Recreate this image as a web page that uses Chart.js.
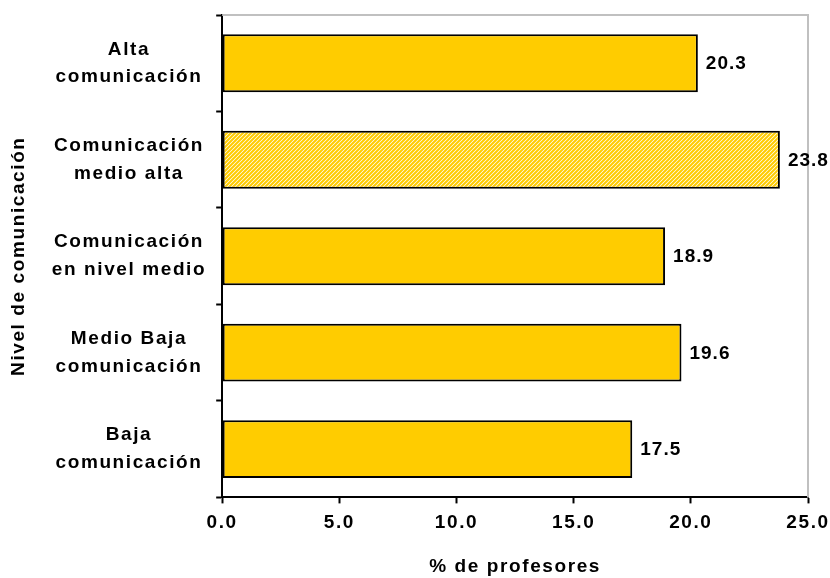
<!DOCTYPE html>
<html>
<head>
<meta charset="utf-8">
<script src="https://cdn.jsdelivr.net/npm/chart.js@4/dist/chart.umd.min.js"></script>
<style>
  html, body { margin: 0; padding: 0; background: #fff; }
  #wrap { width: 830px; height: 578px; }
</style>
</head>
<body>
<div id="wrap"><canvas id="nivelChart" width="830" height="578"></canvas></div>
<script>
const categories = [
  ['Alta', 'comunicación'],
  ['Comunicación', 'medio alta'],
  ['Comunicación', 'en nivel medio'],
  ['Medio Baja', 'comunicación'],
  ['Baja', 'comunicación']
];
const porcentajes = [20.3, 23.8, 18.9, 19.6, 17.5];
const xTicks = [0, 5, 10, 15, 20, 25];

// hatched fill for the highlighted bar
function makeHatch() {
  const c = document.createElement('canvas');
  c.width = 4; c.height = 4;
  const g = c.getContext('2d');
  g.fillStyle = '#fff';
  g.fillRect(0, 0, 4, 4);
  g.strokeStyle = '#FFCC00';
  g.lineWidth = 2.1;
  g.beginPath();
  g.moveTo(-1, 5); g.lineTo(5, -1);
  g.moveTo(-1, 1); g.lineTo(1, -1);
  g.moveTo(3, 5); g.lineTo(5, 3);
  g.stroke();
  return g.createPattern(c, 'repeat');
}
const hatch = makeHatch();
const fills = porcentajes.map((v, i) => i === 1 ? hatch : '#FFCC00');

const FONT = 'Liberation Sans, Arial, sans-serif';
const SPACING = '1.6px';

// wide letter spacing for all chart text
const spacing = {
  id: 'spacing',
  beforeUpdate(chart) { chart.ctx.letterSpacing = SPACING; },
  beforeDraw(chart) { chart.ctx.letterSpacing = SPACING; }
};

// grey frame on top/right of the plot area
const frame = {
  id: 'frame',
  beforeDatasetsDraw(chart) {
    const a = chart.chartArea, ctx = chart.ctx;
    ctx.save();
    ctx.strokeStyle = '#c0c0c0';
    ctx.lineWidth = 2;
    ctx.beginPath();
    ctx.moveTo(a.left, a.top);
    ctx.lineTo(a.right, a.top);
    ctx.lineTo(a.right, a.bottom);
    ctx.stroke();
    ctx.restore();
  }
};

// value labels at the end of each bar
const valueLabels = {
  id: 'valueLabels',
  afterDatasetsDraw(chart) {
    const ctx = chart.ctx;
    const meta = chart.getDatasetMeta(0);
    ctx.save();
    ctx.font = 'bold 19px ' + FONT;
    ctx.letterSpacing = '1px';
    ctx.fillStyle = '#000';
    ctx.textBaseline = 'middle';
    meta.data.forEach((bar, i) => {
      ctx.fillText(porcentajes[i].toFixed(1), bar.x + 8, bar.y + 1);
    });
    ctx.restore();
  }
};

new Chart(document.getElementById('nivelChart'), {
  type: 'bar',
  data: {
    labels: categories,
    datasets: [{
      data: porcentajes,
      backgroundColor: fills,
      borderColor: '#000',
      borderWidth: 2,
      borderSkipped: false,
      barPercentage: 0.6,
      categoryPercentage: 1
    }]
  },
  options: {
    indexAxis: 'y',
    responsive: false,
    animation: false,
    layout: { padding: { top: 15, right: 0, left: 2, bottom: 0 } },
    plugins: {
      legend: { display: false },
      tooltip: { enabled: false }
    },
    scales: {
      x: {
        min: 0,
        max: 25,
        afterBuildTicks(scale) { scale.ticks = xTicks.map(v => ({ value: v })); },
        afterFit(scale) { scale.paddingRight = 22; },
        grid: { drawOnChartArea: false, tickLength: 6, color: '#000', tickWidth: 2 },
        border: { color: '#000', width: 2 },
        ticks: {
          color: '#000',
          font: { family: FONT, size: 19, weight: 'bold' },
          padding: 8,
          callback: v => v.toFixed(1)
        },
        title: {
          display: true,
          text: '% de profesores',
          color: '#000',
          font: { family: FONT, size: 19, weight: 'bold' },
          padding: { top: 13, bottom: 0 }
        }
      },
      y: {
        afterFit(scale) { scale.paddingTop = 0; scale.paddingBottom = 0; },
        grid: { drawOnChartArea: false, offset: true, tickLength: 6, color: '#000', tickWidth: 2 },
        border: { color: '#000', width: 2 },
        ticks: {
          color: '#000',
          font: { family: FONT, size: 19, weight: 'bold', lineHeight: 1.47 },
          padding: 10,
          align: 'center',
          crossAlign: 'center'
        },
        title: {
          display: true,
          text: 'Nivel de comunicación',
          color: '#000',
          font: { family: FONT, size: 19, weight: 'bold' },
          padding: { top: 5, bottom: 12 }
        }
      }
    }
  },
  plugins: [spacing, frame, valueLabels]
});
</script>
</body>
</html>
